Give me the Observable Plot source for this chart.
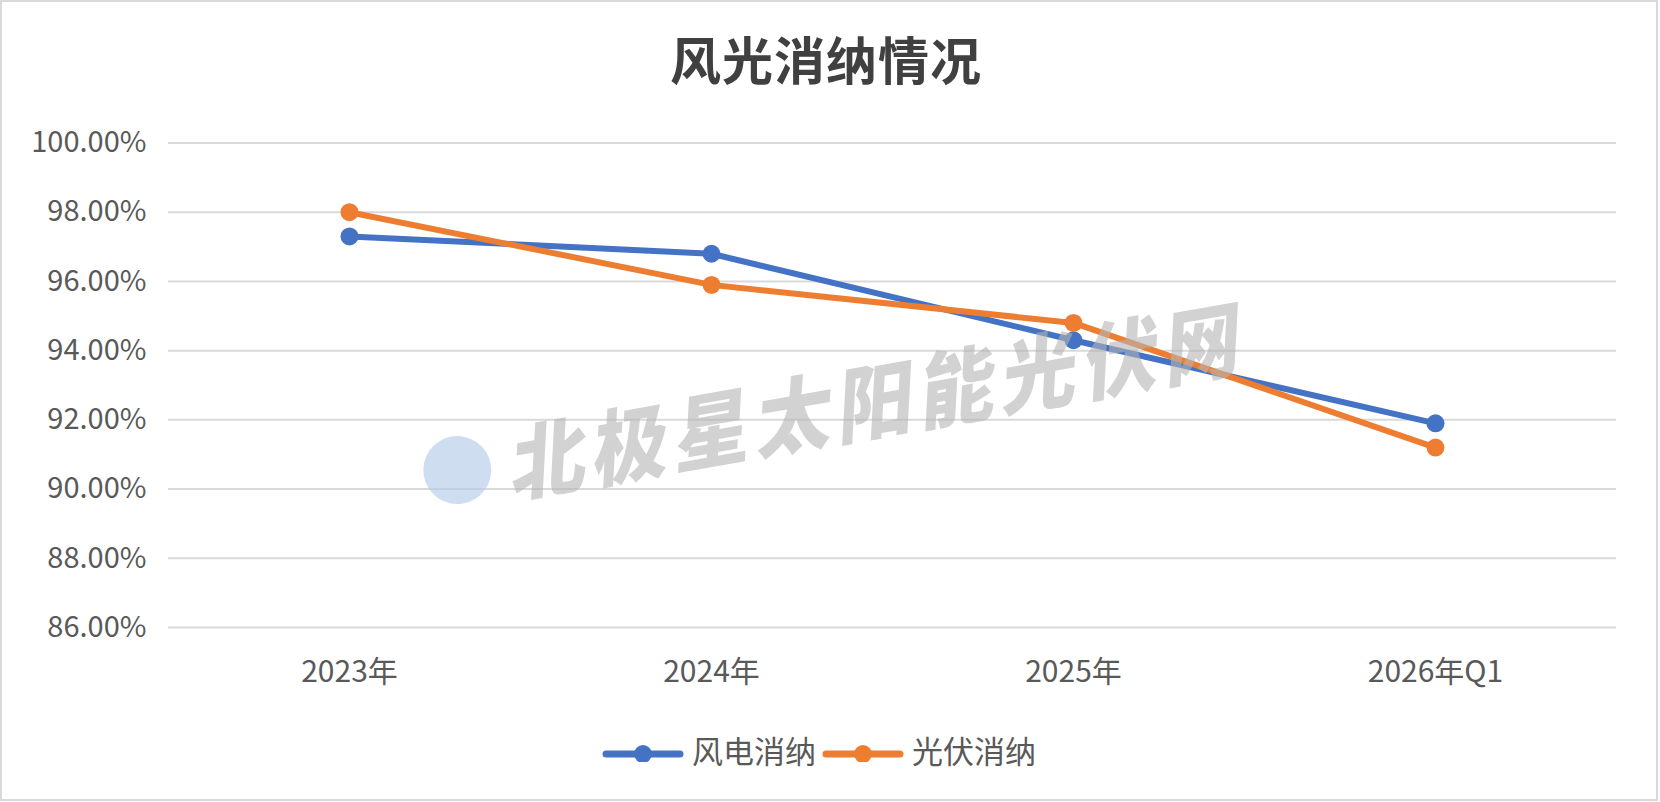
<!DOCTYPE html>
<html>
<head>
<meta charset="utf-8">
<script src="https://cdn.jsdelivr.net/npm/d3@7"></script>
<script src="https://cdn.jsdelivr.net/npm/@observablehq/plot@0.6"></script>
<style>
  html, body { margin: 0; padding: 0; background: #ffffff; }
  #wrap { position: relative; width: 1660px; height: 802px; overflow: hidden; background: #fff; font-family: "Noto Sans CJK SC", "Noto Sans", sans-serif; }
  #border { position: absolute; left: 0; top: 0; width: 1658px; height: 801px; box-sizing: border-box; border: 2px solid #d9d9d9; pointer-events: none; }
  #title { position: absolute; left: 0; top: 30px; width: 1652px; text-align: center; font-size: 51px; line-height: 56px; font-weight: 700; color: #404040; letter-spacing: 1px; }
  #chart { position: absolute; left: 0; top: 0; }
  #legend { position: absolute; left: 602px; top: 730px; height: 40px; display: flex; align-items: center; font-size: 31px; color: #595959; }
  .item { display: flex; align-items: center; }
  .item svg { display: block; }
  .item span { line-height: 40px; margin-left: 8px; margin-right: 6px; }
  #watermark { position: absolute; left: 832px; top: 404px; transform: translate(-50%, -50%) rotate(-10deg); white-space: nowrap; display: flex; align-items: center; pointer-events: none; }
  #watermark .logo { width: 68px; height: 68px; border-radius: 50%; background: rgba(180, 205, 232, 0.65); margin-right: 14px; }
  #watermark .wm { font-size: 76px; font-weight: 900; font-style: italic; color: rgba(180, 180, 180, 0.6); letter-spacing: 7px; transform: scaleY(1.08); }
</style>
</head>
<body>
<div id="wrap">
  <div id="chart"></div>
  <div id="title"></div>
  <div id="watermark"><div class="logo"></div><div class="wm"></div></div>
  <div id="legend"></div>
  <div id="border"></div>
</div>
<script>
const chartTitle = "风光消纳情况";
const watermarkText = "北极星太阳能光伏网";
const categories = ["2023年", "2024年", "2025年", "2026年Q1"];
const seriesNames = ["风电消纳", "光伏消纳"];
const seriesColors = ["#4472C4", "#ED7D31"];
const windValues = [97.3, 96.8, 94.3, 91.9];
const solarValues = [98.0, 95.9, 94.8, 91.2];
const yTicks = [86, 88, 90, 92, 94, 96, 98, 100];

const seriesValues = [windValues, solarValues];
const data = [];
seriesNames.forEach((name, si) => {
  categories.forEach((c, i) => data.push({ series: name, category: c, value: seriesValues[si][i] }));
});

const font = '"Noto Sans CJK SC", "Noto Sans", sans-serif';
const fmt = d => d.toFixed(2) + "%";

const seriesMarks = seriesNames.flatMap(name => [
  Plot.line(data.filter(d => d.series === name), { x: "category", y: "value", stroke: "series", strokeWidth: 6, strokeLinejoin: "round", strokeLinecap: "round" }),
  Plot.dot(data.filter(d => d.series === name), { x: "category", y: "value", fill: "series", r: 9, stroke: "none" })
]);

const chart = Plot.plot({
  width: 1660,
  height: 802,
  marginTop: 142.5,
  marginBottom: 175,
  marginLeft: 168,
  marginRight: 44,
  style: { fontFamily: font, background: "transparent", color: "#595959" },
  x: { type: "point", domain: categories, padding: 0.5, label: null },
  y: { domain: [86, 100], label: null },
  color: { domain: seriesNames, range: seriesColors },
  marks: [
    Plot.gridY(yTicks, { stroke: "#d9d9d9", strokeOpacity: 1, strokeWidth: 2 }),
    Plot.axisY(yTicks, { tickSize: 0, tickPadding: 22, tickFormat: fmt, fontSize: 29, fill: "#595959", label: null }),
    Plot.axisX({ tickSize: 0, tickPadding: 33, fontSize: 30, fill: "#595959", label: null }),
    ...seriesMarks
  ]
});
document.getElementById("chart").appendChild(chart);

document.getElementById("title").textContent = chartTitle;
document.querySelector("#watermark .wm").textContent = watermarkText;

const legend = document.getElementById("legend");
seriesNames.forEach((name, i) => {
  const item = document.createElement("div");
  item.className = "item";
  item.innerHTML = `<svg width="82" height="24"><line x1="4" y1="16" x2="78" y2="16" stroke="${seriesColors[i]}" stroke-width="7" stroke-linecap="round"/><circle cx="41" cy="16" r="9" fill="${seriesColors[i]}"/></svg><span>${name}</span>`;
  legend.appendChild(item);
});
</script>
</body>
</html>
